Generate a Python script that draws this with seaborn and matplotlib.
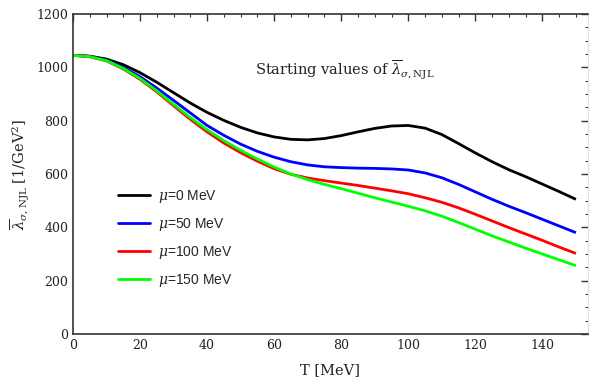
import numpy as np
import pandas as pd
import matplotlib
matplotlib.use("Agg")
import matplotlib.pyplot as plt
from matplotlib.ticker import MultipleLocator
from matplotlib.lines import Line2D
import seaborn as sns

T = list(range(0, 151, 5))
mu0 = [1045, 1042, 1031, 1010, 980, 944, 905, 866, 831, 801, 775, 754, 739, 730, 728, 733,
       744, 758, 771, 780, 782, 772, 748, 714, 679, 646, 616, 590, 562, 534, 505]
mu50 = [1045, 1041, 1027, 1000, 965, 922, 876, 829, 782, 745, 712, 685, 663, 646, 634, 627,
        624, 622, 621, 619, 615, 604, 586, 561, 533, 505, 479, 455, 430, 405, 380]
mu100 = [1045, 1040, 1024, 994, 955, 908, 856, 805, 758, 716, 680, 648, 620, 599, 585, 575,
         566, 557, 547, 537, 526, 511, 494, 473, 449, 424, 399, 375, 351, 326, 302]
mu150 = [1045, 1040, 1025, 996, 958, 912, 861, 812, 766, 725, 689, 656, 626, 600, 579, 561,
         545, 528, 511, 495, 479, 462, 442, 418, 393, 368, 345, 322, 300, 278, 256]
labels = [r"$\mu$=0 MeV", r"$\mu$=50 MeV", r"$\mu$=100 MeV", r"$\mu$=150 MeV"]
colors = ["#000000", "#0000ff", "#ff0000", "#00ff00"]

df = pd.concat([
    pd.DataFrame({"T": T, "val": v, "series": lab})
    for v, lab in zip([mu0, mu50, mu100, mu150], labels)
])

sns.set_theme(style="white")
plt.rcParams["font.family"] = ["DejaVu Serif"]
plt.rcParams["mathtext.fontset"] = "dejavuserif"

fig = plt.figure(figsize=(5.89, 3.83), dpi=100)
ax = fig.add_axes([73/589, 1-334/383, (588-73)/589, (334-14)/383])

sns.lineplot(data=df, x="T", y="val", hue="series", palette=dict(zip(labels, colors)),
             linewidth=2.0, ax=ax, legend=False, sort=False)
for ln in ax.get_lines():
    ln.set_solid_joinstyle("round")
    ln.set_solid_capstyle("butt")

ax.set_xlim(0, 153.6)
ax.set_ylim(0, 1200)
ax.xaxis.set_major_locator(MultipleLocator(20))
ax.xaxis.set_minor_locator(MultipleLocator(5))
ax.yaxis.set_major_locator(MultipleLocator(200))
ax.yaxis.set_minor_locator(MultipleLocator(50))
ax.tick_params(which="both", direction="in", top=True, right=True, colors="#333333",
               labelsize=9, labelcolor="#222222")
ax.tick_params(which="major", length=5, width=1)
ax.tick_params(which="minor", length=2.5, width=0.8)
for s in ["left", "bottom", "top"]:
    ax.spines[s].set_color("#333333")
    ax.spines[s].set_linewidth(1.2)
ax.spines["right"].set_color("#dddddd")
ax.spines["right"].set_linewidth(0.8)

ax.set_xlabel("T [MeV]", fontsize=10.5, color="#222222", labelpad=8)
ax.set_ylabel(r"$\overline{\lambda}_{\sigma,\mathrm{NJL}}$ [1/GeV$^2$]", fontsize=10.5,
              color="#222222", labelpad=4)

ax.text((255-73)/515, (334-70)/320, r"Starting values of $\overline{\lambda}_{\sigma,\mathrm{NJL}}$",
        transform=ax.transAxes, fontsize=10.5, color="#222222", va="center", ha="left")

handles = [Line2D([0], [0], color=c, lw=2.0) for c in colors]
leg = ax.legend(handles, labels, loc="upper left", bbox_to_anchor=((118-73)/515, (334-188)/320),
                frameon=False, borderpad=0, borderaxespad=0, handlelength=2.3,
                handletextpad=0.55, labelspacing=0.8,
                prop={"family": "Liberation Sans", "size": 10})

fig.savefig("out.png", dpi=100)
